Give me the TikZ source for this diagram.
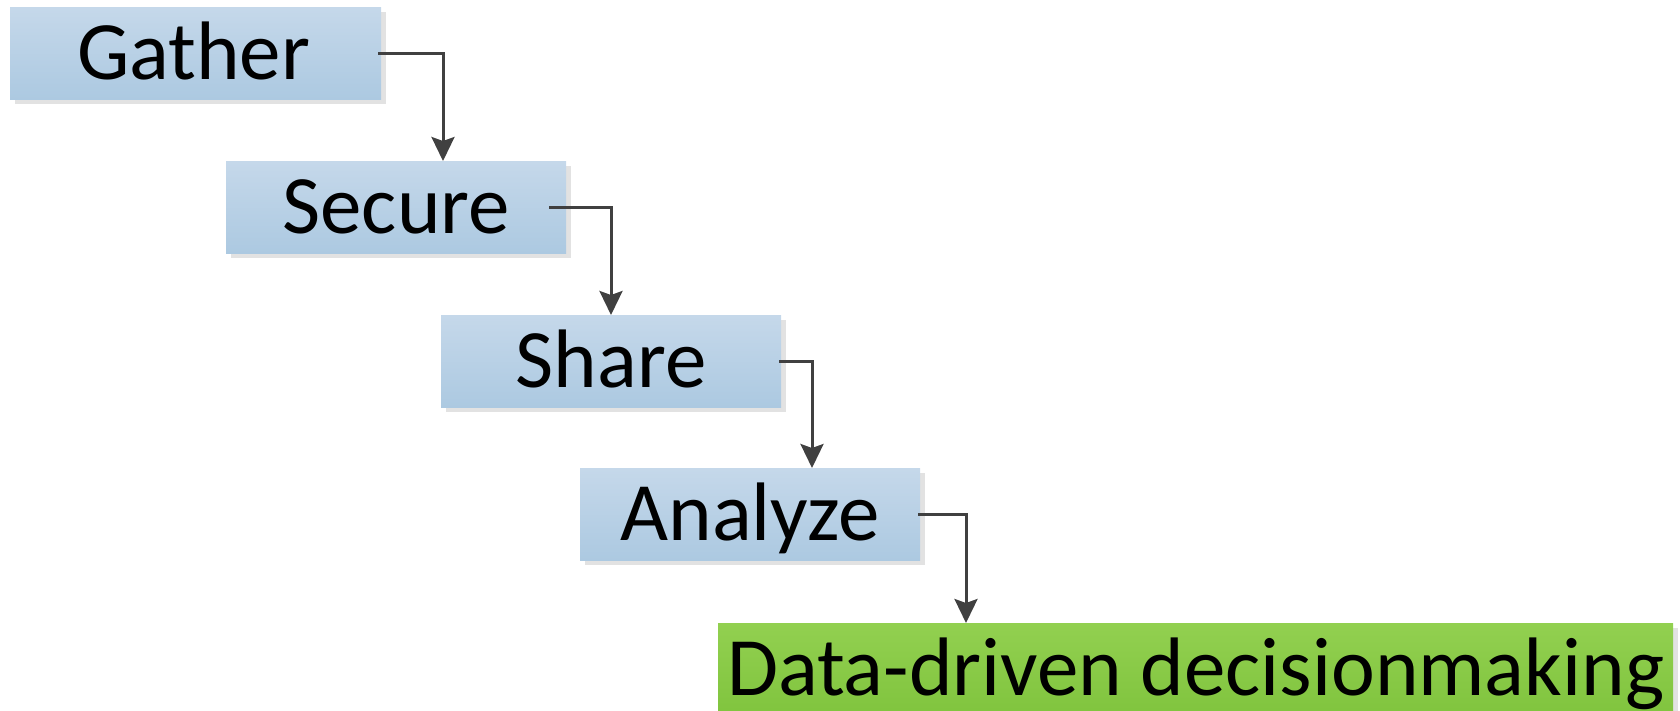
\documentclass[tikz,border=0pt]{standalone}
\usepackage{fontspec}
\setmainfont{Carlito}
\usetikzlibrary{shadows,arrows.meta,calc}
\definecolor{btop}{RGB}{197,216,234}
\definecolor{bbot}{RGB}{172,201,225}
\definecolor{gtop}{RGB}{146,208,80}
\definecolor{gbot}{RGB}{128,196,62}
\definecolor{shad}{RGB}{226,226,226}
\definecolor{conncol}{RGB}{64,64,64}
\begin{document}
\begin{tikzpicture}[x=1pt,y=-1pt,
  stepbox/.style={rectangle, anchor=north west, inner sep=0pt, minimum height=92pt,
    top color=btop, bottom color=bbot, draw=none,
    drop shadow={shadow xshift=5pt, shadow yshift=-5pt, fill=shad, opacity=1},
    font=\fontsize{83}{99}\selectfont, text height=52pt, text depth=0pt},
  goalbox/.style={stepbox, top color=gtop, bottom color=gbot},
  flowline/.style={draw=conncol, line width=3pt, -{Stealth[length=24pt,width=23pt,inset=4pt]}}]
  \clip (0,0) rectangle (1680,710);
  \node[stepbox, minimum width=371pt] (g) at (10,7) {Gather\hspace*{4pt}};
  \node[stepbox, minimum width=340pt] (s) at (226,161) {Secure};
  \node[stepbox, minimum width=340pt] (sh) at (441,315) {Share};
  \node[stepbox, minimum width=340pt] (a) at (580,468) {Analyze};
  \node[goalbox, minimum width=955pt] (d) at (718,623) {Data-driven decisionmaking};
  \coordinate (t1) at ($(s.north west)+(217,0)$);
  \coordinate (t2) at ($(sh.north west)+(170,0)$);
  \coordinate (t3) at ($(a.north west)+(232,0)$);
  \coordinate (t4) at ($(d.north west)+(248,0)$);
  \draw[flowline] ($(g.east)+(-3,0)$) -| (t1);
  \draw[flowline] ($(s.east)+(-17,0)$) -| (t2);
  \draw[flowline] ($(sh.east)+(-2,0)$) -| (t3);
  \draw[flowline] ($(a.east)+(-2,0)$) -| (t4);
\end{tikzpicture}
\end{document}
